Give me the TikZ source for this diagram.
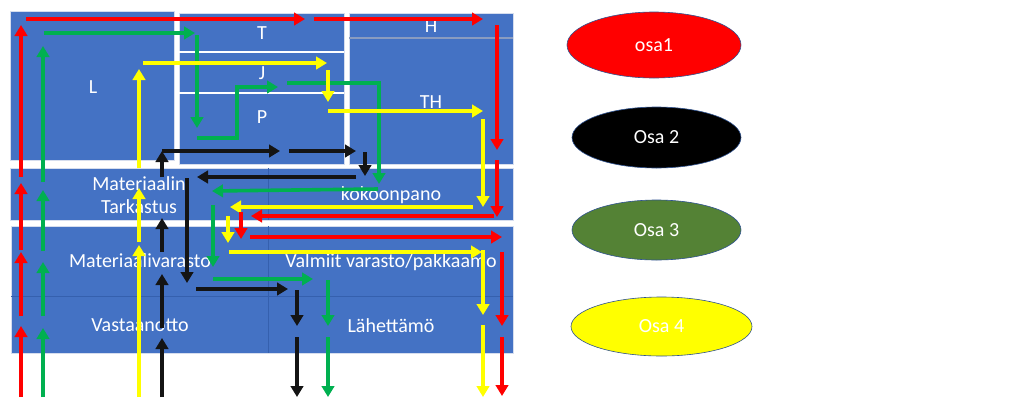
\documentclass[tikz,border=0pt]{standalone}
\usepackage{fontspec}
\setmainfont{Carlito}
\usetikzlibrary{arrows.meta,shapes.geometric}
\definecolor{area}{HTML}{4472C4}
\definecolor{areaedge}{HTML}{D5DDEE}
\definecolor{gridline}{HTML}{3560AE}
\definecolor{hline}{HTML}{8A9CC0}
\definecolor{rline}{HTML}{FF0000}
\definecolor{gline}{HTML}{00B050}
\definecolor{yline}{HTML}{FFFF00}
\definecolor{kline}{HTML}{141414}
\definecolor{osagreen}{HTML}{548235}
\definecolor{rim}{HTML}{2F528F}

\begin{document}
\begin{tikzpicture}[x=1pt,y=-1pt,
  zone/.style={fill=area, draw=areaedge, line width=0.8pt},
  lbl/.style={text=white, font=\fontsize{20}{24}\selectfont, inner sep=0pt, anchor=center},
  flow/.style={line width=3.6pt, line join=miter, -{Triangle[length=11pt,width=12.5pt]}},
  rflow/.style={flow, draw=rline},
  gflow/.style={flow, draw=gline},
  yflow/.style={flow, draw=yline},
  kflow/.style={flow, draw=kline},
  key/.style={ellipse, draw=rim, line width=0.6pt, inner sep=0pt,
    text=white, font=\fontsize{20}{24}\selectfont}
]
\useasboundingbox[fill=white] (0,0) rectangle (1011,397);

% storage areas of the upper floor
\fill[zone] (10,11) rectangle (174,160);
\fill[zone] (179,13) rectangle (344,164);
\draw[white, line width=1.6pt] (179,52) -- (344,52);
\draw[white, line width=1.6pt] (179,93) -- (344,93);
\fill[zone] (349,13) rectangle (513,164);
\draw[hline, line width=1.4pt] (349,38) -- (513,38);

% inspection / assembly row
\fill[zone] (10,168) rectangle (513,220);
\draw[gridline, line width=0.8pt] (268,168) -- (268,220);

% warehouse and receiving / shipping rows
\fill[zone] (11,226) rectangle (513,353);
\draw[gridline, line width=0.8pt] (268,226) -- (268,353);
\draw[gridline, line width=0.8pt] (11,296) -- (513,296);

% area names
\node[lbl] (L)   at (93,87)   {L};
\node[lbl] (T)   at (262,33)  {T};
\node[lbl] (J)   at (262,73)  {J};
\node[lbl] (P)   at (262,117) {P};
\node[lbl] (H)   at (431,26)  {H};
\node[lbl] (TH)  at (431,102) {TH};
\node[lbl, align=center, text depth=0pt] (mt) at (139,195)
  {Materiaalin\\[-1pt]Tarkastus};
\node[lbl] (kok) at (391,195) {kokoonpano};
\node[lbl] (mv)  at (140,261) {Materiaalivarasto};
\node[lbl] (vv)  at (391,262) {Valmiit varasto/pakkaamo};
\node[lbl] (va)  at (140,325) {Vastaanotto};
\node[lbl] (la)  at (391,326) {Lähettämö};

% route of part 2
\draw[kflow] (162,397) -- (162,338);
\draw[kflow] (162,328) -- (162,274);
\draw[kflow] (162,252) -- (162,218);
\draw[kflow] (162,177) -- (162,151);
\draw[kflow] (162,151) -- (280,151);
\draw[kflow] (289,151) -- (356,151);
\draw[kflow] (365,152) -- (365,176);
\draw[kflow] (356,177) -- (197,177);
\draw[kflow] (187,178) -- (187,283);
\draw[kflow] (196,289) -- (288,289);
\draw[kflow] (297,290) -- (297,326);
\draw[kflow] (297,337) -- (297,397);

% route of part 3
\draw[gflow] (43,397) -- (43,328);
\draw[gflow] (43,316) -- (43,262);
\draw[gflow] (43,251) -- (43,190);
\draw[gflow] (43,182) -- (43,46);
\draw[gflow] (44,33) -- (195,33);
\draw[gflow] (197,35) -- (197,128);
\draw[gflow] (197,138) -- (237,138) -- (237,87) -- (278,87);
\draw[gflow] (287,83) -- (379,83) -- (379,184);
\draw[gflow] (378,189) -- (212,191);
\draw[gflow] (213,205) -- (213,267);
\draw[gflow] (213,279) -- (313,279);
\draw[gflow] (328,280) -- (328,326);
\draw[gflow] (328,337) -- (328,397);

% route of part 4
\draw[yflow] (139,397) -- (139,245);
\draw[yflow] (139,242) -- (139,188);
\draw[yflow] (139,168) -- (139,69);
\draw[yflow] (143,63) -- (327,63);
\draw[yflow] (328,70) -- (328,102);
\draw[yflow] (328,111) -- (483,111);
\draw[yflow] (483,119) -- (483,207);
\draw[yflow] (473,207) -- (230,207);
\draw[yflow] (228,216) -- (228,243);
\draw[yflow] (229,252) -- (482,252);
\draw[yflow] (483,250) -- (483,315);
\draw[yflow] (483,325) -- (483,397);

% route of part 1
\draw[rflow] (21,397) -- (21,326);
\draw[rflow] (21,316) -- (21,252);
\draw[rflow] (21,250) -- (21,183);
\draw[rflow] (21,177) -- (21,25);
\draw[rflow] (26,19) -- (305,19);
\draw[rflow] (314,19) -- (483,19);
\draw[rflow] (497,25) -- (497,150);
\draw[rflow] (497,160) -- (497,217);
\draw[rflow] (494,216) -- (251,216);
\draw[rflow] (241,212) -- (241,239);
\draw[rflow] (250,237) -- (502,237);
\draw[rflow] (502,252) -- (502,326);
\draw[rflow] (502,337) -- (502,396);

% legend
\node[key, fill=rline, minimum width=174pt, minimum height=66pt] (osa1) at (654,45) {osa1};
\node[key, fill=black, minimum width=169pt, minimum height=61pt] (osa2) at (656.5,137.5) {Osa 2};
\node[key, fill=osagreen, minimum width=169pt, minimum height=60pt] (osa3) at (656.5,230) {Osa 3};
\node[key, fill=yline, minimum width=181pt, minimum height=59pt] (osa4) at (661.5,326.5) {Osa 4};
\end{tikzpicture}
\end{document}
